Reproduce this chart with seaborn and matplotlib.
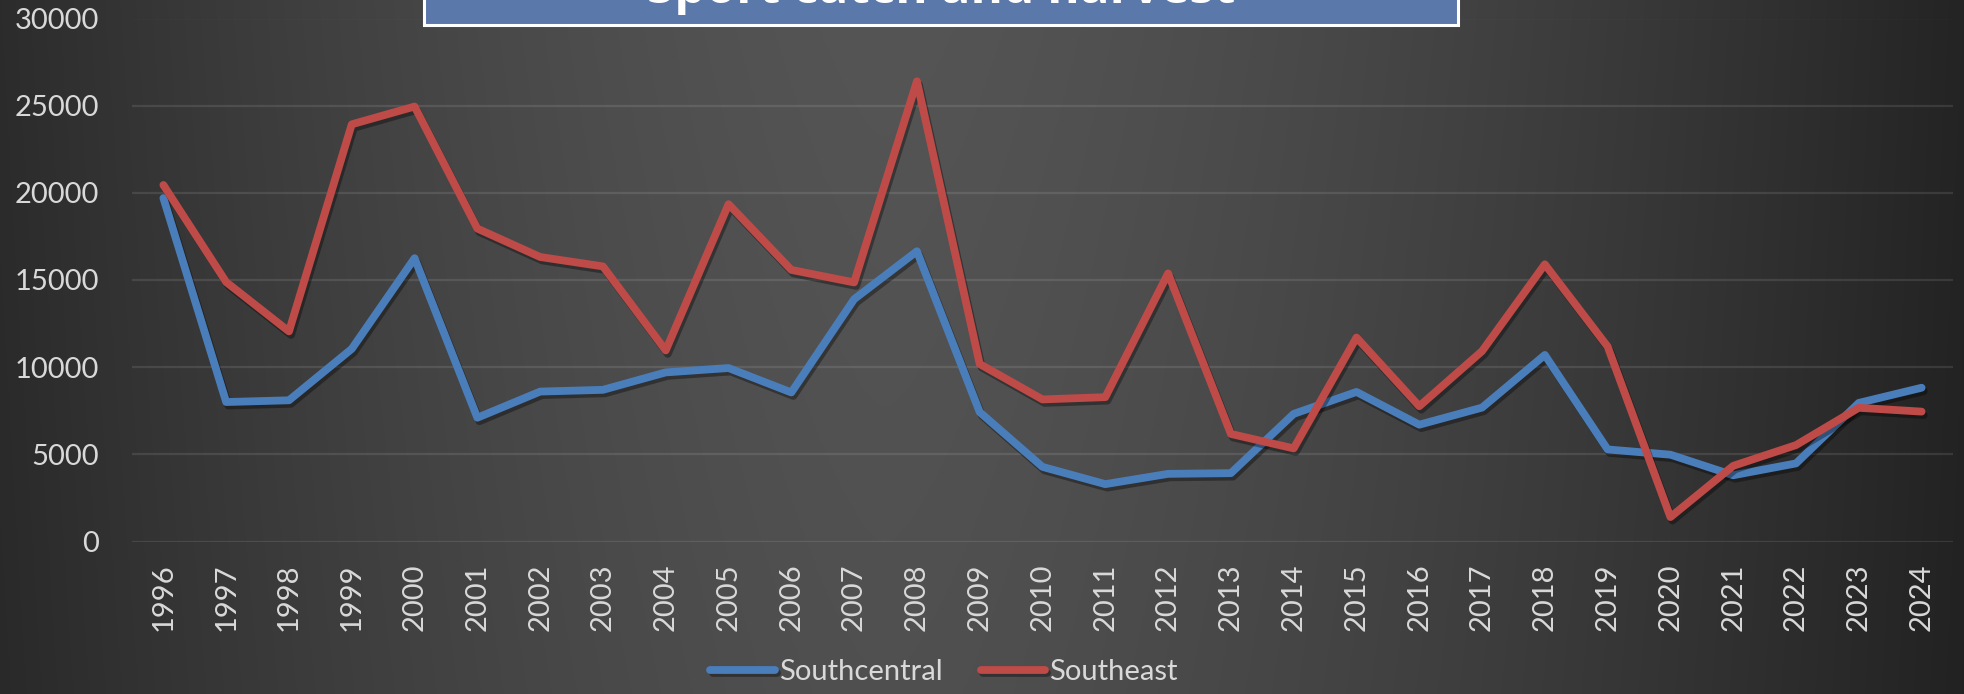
import numpy as np
import pandas as pd
import matplotlib
matplotlib.use("Agg")
import matplotlib.pyplot as plt
import matplotlib.patheffects as pe
from matplotlib.patches import Rectangle
import seaborn as sns

years = list(range(1996, 2025))
southcentral = [19700, 8000, 8100, 11050, 16250, 7100, 8600, 8700, 9700, 9950,
                8550, 13900, 16650, 7420, 4280, 3290, 3880, 3920, 7320, 8580,
                6700, 7680, 10700, 5280, 4980, 3800, 4480, 7950, 8820]
southeast = [20450, 14880, 12050, 23930, 24950, 17950, 16320, 15780, 10960, 19350,
             15580, 14860, 26400, 10180, 8150, 8280, 15380, 6170, 5340, 11700,
             7760, 10920, 15900, 11180, 1400, 4340, 5530, 7670, 7450]
regions = ["Southcentral", "Southeast"]
colors = ["#4A7EBB", "#BE4B48"]
title = "Sport catch and harvest"

df = pd.DataFrame({
    "year": years * 2,
    "value": southcentral + southeast,
    "region": [regions[0]] * len(years) + [regions[1]] * len(years),
})

sns.set_style("dark")
plt.rcParams["font.family"] = ["Lato", "DejaVu Sans"]

W, H = 1965, 694
fig = plt.figure(figsize=(W / 100, H / 100), dpi=100)

# dark gradient background (lighter towards the middle)
bg = fig.add_axes([0, 0, 1, 1], zorder=-10)
xs = np.linspace(0, 1, 800)
xp = 0.45
t = np.where(xs < xp, (xp - xs) / xp, (xs - xp) / (1 - xp))
edge = np.where(xs < xp, 44, 36)
v = (edge + (85 - edge) * (1 - t ** 1.5)) / 255
ys = np.linspace(0, 1, 200)
grad = v[None, :] * (0.94 + 0.06 * ys[:, None])
bg.imshow(np.dstack([grad] * 3), aspect="auto", extent=[0, 1, 0, 1], origin="lower")
bg.axis("off")

lw = 5.6
ax = fig.add_axes([132 / W, 1 - 541.5 / H, (1953 - 132) / W, (541.5 - 18.5) / H])
ax.set_facecolor("none")
sns.lineplot(data=df, x="year", y="value", hue="region", palette=colors,
             linewidth=lw, ax=ax)
for line in ax.lines:
    line.set_solid_capstyle("round")
    line.set_path_effects([pe.SimpleLineShadow(offset=(1.5, -2.5), alpha=0.35, shadow_color="black"),
                           pe.Normal()])

ax.set_xlim(1995.5, 2024.5)
ax.set_ylim(0, 30000)
ax.set_yticks(range(0, 30001, 5000))
ax.set_xticks(years)
ax.set_xticklabels([str(y) for y in years], rotation=90)
ax.grid(axis="y", color="white", alpha=0.1, linewidth=1.6)
ax.grid(axis="x", visible=False)
ax.set_axisbelow(True)
ax.tick_params(colors="#D9D9D9", labelsize=21, length=0)
ax.tick_params(axis="x", pad=16)
ax.tick_params(axis="y", pad=24)
for s in ax.spines.values():
    s.set_visible(False)
ax.set_xlabel("")
ax.set_ylabel("")

handles, labels = ax.get_legend_handles_labels()
ax.legend_.remove()
leg = fig.legend(handles, labels, loc="center", bbox_to_anchor=(944 / W, 1 - 672 / H),
                 ncol=2, frameon=False, fontsize=21, labelcolor="#D9D9D9",
                 handlelength=2.2, handletextpad=0.15, columnspacing=1.3)
for h in leg.get_lines():
    h.set_linewidth(lw)
    h.set_solid_capstyle("round")

# title box, cut off at the top edge
fig.patches.append(Rectangle((424 / W, 1 - 25 / H), (1458 - 424) / W, 40 / H,
                             transform=fig.transFigure, facecolor="#5B78AB",
                             edgecolor="white", linewidth=2.2, zorder=5))
txt = fig.text(941 / W, 1 - 3 / H, title, ha="center", va="baseline", color="white",
               fontweight="bold", family=["Open Sans", "DejaVu Sans"], fontsize=36, zorder=6)
fig.canvas.draw()
w = txt.get_window_extent().width
txt.set_fontsize(36 * 587 / w)

fig.savefig("out.png", dpi=100)
